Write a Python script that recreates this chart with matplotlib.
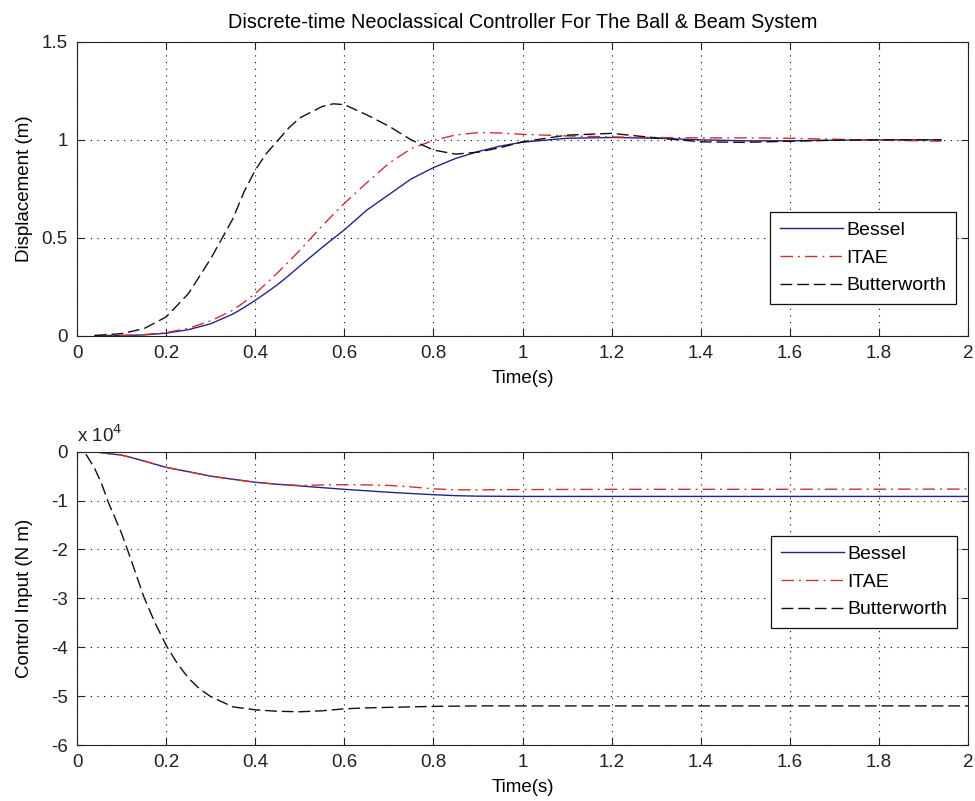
import matplotlib
matplotlib.use("Agg")
import matplotlib.pyplot as plt
from matplotlib.ticker import FuncFormatter

plt.rcParams["font.family"] = ["Liberation Sans", "DejaVu Sans"]
plt.rcParams["axes.unicode_minus"] = False

# ---------------- Ball position response (m) ----------------
t_pos = [0.04, 0.10, 0.15, 0.20, 0.25, 0.30, 0.35, 0.375, 0.40, 0.425, 0.45, 0.475, 0.50, 0.55, 0.575,
         0.60, 0.65, 0.70, 0.75, 0.80, 0.85, 0.90, 0.95, 1.00, 1.10, 1.20, 1.30,
         1.40, 1.50, 1.60, 1.70, 1.80, 1.94]
pos_bessel = [0.0, 0.0, 0.003, 0.012, 0.03, 0.06, 0.11, 0.143, 0.18, 0.219, 0.26, 0.306, 0.355, 0.45, 0.495,
              0.54, 0.64, 0.72, 0.80, 0.858, 0.905, 0.94, 0.968, 0.988, 1.008, 1.012, 1.008,
              1.0, 0.995, 0.995, 0.998, 1.0, 1.0]
pos_itae = [0.0, 0.001, 0.005, 0.015, 0.037, 0.075, 0.13, 0.17, 0.215, 0.266, 0.32, 0.377, 0.435, 0.56, 0.618,
            0.675, 0.78, 0.88, 0.955, 0.997, 1.025, 1.037, 1.035, 1.028, 1.02, 1.015, 1.012,
            1.01, 1.01, 1.008, 1.003, 0.998, 0.993]
pos_butter = [0.0, 0.01, 0.035, 0.095, 0.214, 0.392, 0.597, 0.735, 0.845, 0.93, 0.995, 1.06, 1.112, 1.17, 1.184,
              1.18, 1.128, 1.07, 1.0, 0.948, 0.927, 0.937, 0.96, 0.99, 1.024, 1.033, 1.01,
              0.99, 0.987, 0.993, 0.998, 1.0, 1.0]

# ---------------- Control input (N m) ----------------
t_u = [0.02, 0.04, 0.055, 0.07, 0.085, 0.10, 0.12, 0.15, 0.175, 0.20, 0.225, 0.25,
       0.275, 0.30, 0.35, 0.40, 0.45, 0.50, 0.55, 0.60, 0.65, 0.70, 0.75, 0.80,
       0.85, 0.90, 1.00, 1.20, 1.50, 2.00]
u_bessel = [None, 0.0, -200, -400, -550, -700, -1150, -1900, -2550, -3200, -3650, -4100,
            -4550, -5000, -5650, -6250, -6670, -7000, -7350, -7700, -8000, -8300, -8550, -8800,
            -9000, -9100, -9150, -9150, -9150, -9150]
u_itae = [None, 0.0, -200, -400, -550, -700, -1150, -1900, -2550, -3200, -3650, -4100,
          -4550, -5000, -5650, -6250, -6670, -6900, -6800, -6750, -6800, -6900, -7200, -7600,
          -7800, -7800, -7750, -7700, -7700, -7650]
u_butter = [-500, -3500, -6500, -10300, -13500, -16700, -21800, -29700, -35000, -39600, -43300, -46300,
            -48500, -50100, -52200, -52800, -53100, -53200, -53000, -52600, -52400, -52300, -52200, -52100,
            -52050, -52000, -52000, -52000, -52000, -52000]

x_ticks = [0, 0.2, 0.4, 0.6, 0.8, 1.0, 1.2, 1.4, 1.6, 1.8, 2.0]
pos_ticks = [0, 0.5, 1.0, 1.5]
u_ticks = [0, -10000, -20000, -30000, -40000, -50000, -60000]
labels = ["Bessel", "ITAE", "Butterworth"]

BLUE = "#23238c"
RED = "#cc3333"
BLACK = "#111111"
FS = 13.5      # tick labels, axis labels
FS_LEG = 14.0  # legend entries
FS_TITLE = 14.3


def fmt_num(v, _pos=None):
    return "%g" % round(v, 6)


def style_axes(ax):
    ax.set_xlim(0, 2)
    ax.set_xticks(x_ticks)
    ax.xaxis.set_major_formatter(FuncFormatter(fmt_num))
    ax.grid(True, linestyle=(0, (1, 5)), linewidth=0.8, color="k")
    ax.tick_params(direction="in", top=True, right=True, length=5, width=0.8,
                   labelsize=FS, pad=6.5, colors="#222222")
    for sp in ax.spines.values():
        sp.set_linewidth(0.8)
        sp.set_color("#222222")
    ax.set_xlabel("Time(s)", fontsize=FS, va="center")
    ax.xaxis.set_label_coords(0.5, -0.145)


def draw(ax, t, yb, yi, ybw):
    tb = [a for a, b in zip(t, yb) if b is not None]
    vb = [b for b in yb if b is not None]
    ti = [a for a, b in zip(t, yi) if b is not None]
    vi = [b for b in yi if b is not None]
    ax.plot(tb, vb, color=BLUE, lw=1.0, label=labels[0])
    ax.plot(ti, vi, color=RED, lw=1.0, dashes=(9.0, 3.6, 1.4, 3.6), label=labels[1])
    ax.plot(t, ybw, color=BLACK, lw=1.0, dashes=(8.5, 3.5), label=labels[2])


def add_legend(ax, anchor):
    leg = ax.legend(loc="upper right", bbox_to_anchor=anchor, borderaxespad=0,
                    fontsize=FS_LEG, handlelength=3.24, handletextpad=0.2,
                    borderpad=0.48, labelspacing=0.52, fancybox=False,
                    framealpha=1, edgecolor="#111111")
    leg.get_frame().set_linewidth(0.9)


fig = plt.figure(figsize=(9.75, 8.01), dpi=100)
ax1 = fig.add_axes([0.079, 0.5811, 0.9138, 0.3665])
ax2 = fig.add_axes([0.079, 0.0699, 0.9138, 0.3662])

# Displacement
draw(ax1, t_pos, pos_bessel, pos_itae, pos_butter)
style_axes(ax1)
ax1.set_ylim(0, 1.5)
ax1.set_yticks(pos_ticks)
ax1.yaxis.set_major_formatter(FuncFormatter(fmt_num))
ax1.set_ylabel("Displacement (m)", fontsize=FS, va="center")
ax1.yaxis.set_label_coords(-0.0595, 0.5)
ax1.set_title("Discrete-time Neoclassical Controller For The Ball & Beam System",
              fontsize=FS_TITLE, pad=10)
add_legend(ax1, (0.9865, 0.4208))

# Control input
draw(ax2, t_u, u_bessel, u_itae, u_butter)
style_axes(ax2)
ax2.set_ylim(-60000, 0)
ax2.set_yticks(u_ticks)
ax2.yaxis.set_major_formatter(FuncFormatter(lambda v, p: fmt_num(v / 1e4)))
ax2.set_ylabel("Control Input (N m)", fontsize=FS, va="center")
ax2.yaxis.set_label_coords(-0.0595, 0.5)
ax2.text(0.0, 1.034, r"x 10$^{4}$", transform=ax2.transAxes, ha="left",
         va="baseline", fontsize=FS, color="#222222")
add_legend(ax2, (0.9877, 0.7126))

fig.savefig("out.png", dpi=100)
